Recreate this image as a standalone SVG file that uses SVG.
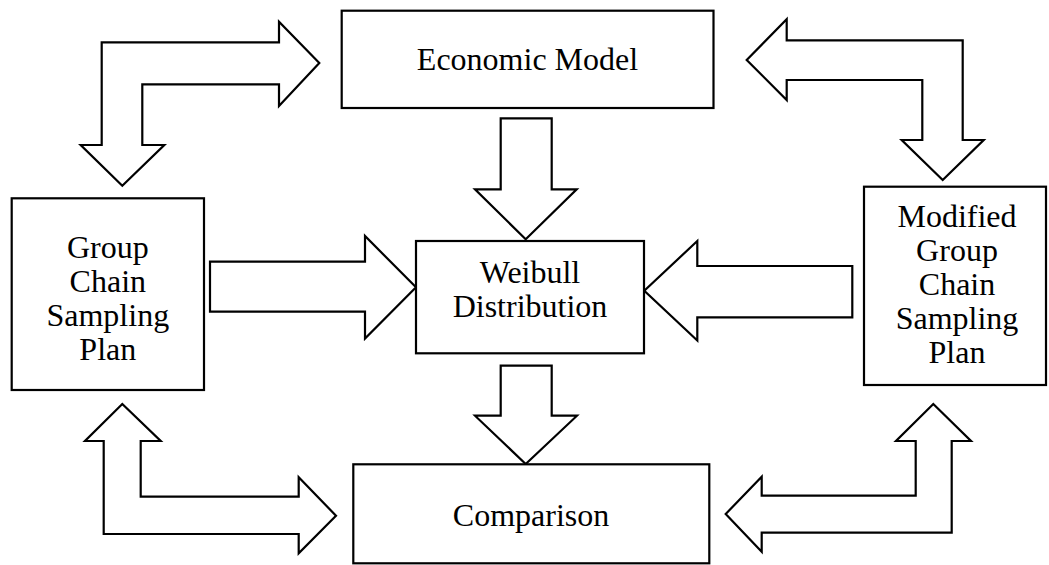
<svg xmlns="http://www.w3.org/2000/svg" width="1049" height="565" viewBox="0 0 1049 565">
<style>
.box{fill:#fff;stroke:#000;stroke-width:2.2}
.arr{fill:#fff;stroke:#000;stroke-width:2.2;stroke-linejoin:miter}
.t{font-family:"Liberation Serif","Times New Roman",serif;font-size:32px;fill:#000;text-anchor:middle}
</style>
<rect width="1049" height="565" fill="#fff"/>
<g id="connectors">
<polygon class="arr" points="101.7,42.3 279,42.3 279,21.7 319.3,63 279,106 279,84.3 142.3,84.3 142.3,145 164.3,145 122.3,185.7 80.7,145 101.7,145"/>
<polygon class="arr" points="962.7,40.3 786.7,40.3 786.7,19.3 746.7,60 786.7,100 786.7,80 922.3,80 922.3,140 901.7,140 942.7,180 983.7,140 962.7,140"/>
<polygon class="arr" points="103.7,534 298.7,534 298.7,553.3 336,515.7 298.7,477.3 298.7,496.7 140.7,496.7 140.7,441 160.7,441 122.3,404 85,441 103.7,441"/>
<polygon class="arr" points="951.7,532.7 761.7,532.7 761.7,551.7 725.7,514 761.7,476.7 761.7,495.7 915.7,495.7 915.7,441 896,441 933.3,404 971,441 951.7,441"/>
<polygon class="arr" points="500.7,118.3 551.7,118.3 551.7,189.3 576.7,189.3 525.7,239.3 475,189.3 500.7,189.3"/>
<polygon class="arr" points="500.7,365.7 551.7,365.7 551.7,415.7 577,415.7 525.7,464 475,415.7 500.7,415.7"/>
<polygon class="arr" points="210,261.7 365,261.7 365,236 416,287.3 365,338.6 365,311.7 210,311.7"/>
<polygon class="arr" points="852.3,266 697.3,266 697.3,241 644.3,290.7 697.3,340.5 697.3,317.3 852.3,317.3"/>
</g>
<g id="economic-model">
<rect class="box" x="341.7" y="10.7" width="371.8" height="97.3"/>
<text class="t" x="527.5" y="70">Economic Model</text>
</g>
<g id="group-chain">
<rect class="box" x="11.7" y="198.3" width="192.3" height="191.7"/>
<text class="t" x="107.8" y="258">Group</text>
<text class="t" x="107.8" y="292">Chain</text>
<text class="t" x="107.8" y="326">Sampling</text>
<text class="t" x="107.8" y="360">Plan</text>
</g>
<g id="weibull">
<rect class="box" x="416" y="241" width="228" height="112.3"/>
<text class="t" x="530" y="283">Weibull</text>
<text class="t" x="530" y="317">Distribution</text>
</g>
<g id="modified-group-chain">
<rect class="box" x="864" y="186.7" width="182" height="198.3"/>
<text class="t" x="957" y="227">Modified</text>
<text class="t" x="957" y="261">Group</text>
<text class="t" x="957" y="295">Chain</text>
<text class="t" x="957" y="329">Sampling</text>
<text class="t" x="957" y="363">Plan</text>
</g>
<g id="comparison">
<rect class="box" x="353.3" y="464.3" width="356" height="99"/>
<text class="t" x="531" y="526">Comparison</text>
</g>
</svg>
